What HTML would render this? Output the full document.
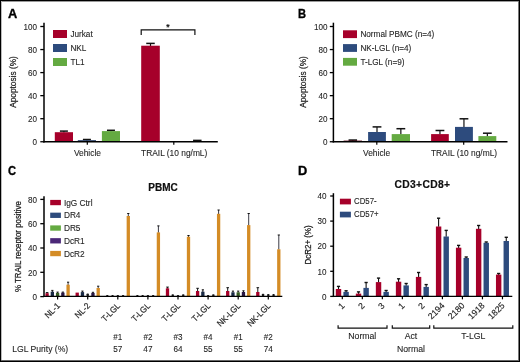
<!DOCTYPE html>
<html><head><meta charset="utf-8"><style>
html,body{margin:0;padding:0;background:#fff;}
body{width:520px;height:362px;overflow:hidden;position:relative;}
svg{position:absolute;left:0;top:0;will-change:transform;font-family:"Liberation Sans", sans-serif;}
</style></head><body>
<svg width="520" height="362" viewBox="0 0 520 362">
<text x="8.1" y="17.8" font-size="12.8" text-anchor="start" font-weight="bold" fill="#000" stroke="#000" stroke-width="0.35">A</text>
<text x="0" y="0" font-size="9.2" text-anchor="end" font-weight="normal" fill="#1e1e1e" transform="translate(36.90,144.95) scale(0.880,1)"  stroke="#1e1e1e" stroke-width="0.1">0</text>
<text x="0" y="0" font-size="9.2" text-anchor="end" font-weight="normal" fill="#1e1e1e" transform="translate(36.90,121.90) scale(0.880,1)"  stroke="#1e1e1e" stroke-width="0.1">20</text>
<text x="0" y="0" font-size="9.2" text-anchor="end" font-weight="normal" fill="#1e1e1e" transform="translate(36.90,98.85) scale(0.880,1)"  stroke="#1e1e1e" stroke-width="0.1">40</text>
<text x="0" y="0" font-size="9.2" text-anchor="end" font-weight="normal" fill="#1e1e1e" transform="translate(36.90,75.80) scale(0.880,1)"  stroke="#1e1e1e" stroke-width="0.1">60</text>
<text x="0" y="0" font-size="9.2" text-anchor="end" font-weight="normal" fill="#1e1e1e" transform="translate(36.90,52.75) scale(0.880,1)"  stroke="#1e1e1e" stroke-width="0.1">80</text>
<text x="0" y="0" font-size="9.2" text-anchor="end" font-weight="normal" fill="#1e1e1e" transform="translate(36.90,29.70) scale(0.880,1)"  stroke="#1e1e1e" stroke-width="0.1">100</text>
<text x="0" y="0" font-size="8.3" text-anchor="middle" font-weight="normal" fill="#1a1a1a" transform="translate(16.2,82) rotate(-90)" stroke="#1a1a1a" stroke-width="0.22">Apoptosis (%)</text>
<line x1="63.90" y1="131.10" x2="63.90" y2="132.50" stroke="#111" stroke-width="1.2"/>
<line x1="59.90" y1="131.10" x2="67.90" y2="131.10" stroke="#111" stroke-width="1.5"/>
<rect x="54.80" y="132.20" width="18.20" height="9.55" fill="#a6002a"/>
<line x1="86.90" y1="139.50" x2="86.90" y2="140.50" stroke="#111" stroke-width="1.2"/>
<line x1="82.90" y1="139.50" x2="90.90" y2="139.50" stroke="#111" stroke-width="1.5"/>
<rect x="77.80" y="140.20" width="18.20" height="1.55" fill="#1d3560"/>
<line x1="110.95" y1="130.30" x2="110.95" y2="131.40" stroke="#111" stroke-width="1.2"/>
<line x1="106.95" y1="130.30" x2="114.95" y2="130.30" stroke="#111" stroke-width="1.5"/>
<rect x="101.90" y="131.10" width="18.10" height="10.65" fill="#64aa41"/>
<line x1="150.50" y1="43.40" x2="150.50" y2="46.00" stroke="#111" stroke-width="1.2"/>
<line x1="146.25" y1="43.40" x2="154.75" y2="43.40" stroke="#111" stroke-width="1.5"/>
<rect x="141.20" y="45.70" width="18.60" height="96.05" fill="#a6002a"/>
<line x1="197.30" y1="140.40" x2="197.30" y2="141.70" stroke="#111" stroke-width="1.2"/>
<line x1="193.05" y1="140.40" x2="201.55" y2="140.40" stroke="#111" stroke-width="1.5"/>
<rect x="188.30" y="141.40" width="18.00" height="0.35" fill="#64aa41"/>
<text x="87.4" y="155.6" font-size="8.4" text-anchor="middle" font-weight="normal" fill="#1e1e1e"  stroke="#1e1e1e" stroke-width="0.1">Vehicle</text>
<text x="174.2" y="155.6" font-size="8.4" text-anchor="middle" font-weight="normal" fill="#1e1e1e"  stroke="#1e1e1e" stroke-width="0.1">TRAIL (10 ng/mL)</text>
<rect x="53.00" y="30.00" width="14.00" height="8.00" fill="#a6002a"/>
<text x="70.4" y="37" font-size="8.2" text-anchor="start" font-weight="normal" fill="#1e1e1e"  stroke="#1e1e1e" stroke-width="0.1">Jurkat</text>
<rect x="53.00" y="44.00" width="14.00" height="8.00" fill="#2d4b7d"/>
<text x="70.4" y="51" font-size="8.2" text-anchor="start" font-weight="normal" fill="#1e1e1e"  stroke="#1e1e1e" stroke-width="0.1">NKL</text>
<rect x="53.00" y="58.00" width="14.00" height="8.00" fill="#64aa41"/>
<text x="70.4" y="65" font-size="8.2" text-anchor="start" font-weight="normal" fill="#1e1e1e"  stroke="#1e1e1e" stroke-width="0.1">TL1</text>
<polyline points="141.2,35 141.2,29.8 194.9,29.8 194.9,35" fill="none" stroke="#111" stroke-width="1.2"/>
<text x="167.9" y="30.3" font-size="8.5" text-anchor="middle" font-weight="bold" fill="#111"  stroke="#111" stroke-width="0.1">*</text>
<text x="0" y="0" font-size="12.8" text-anchor="start" font-weight="bold" fill="#000" transform="translate(298.00,17.80) scale(0.870,1)" stroke="#000" stroke-width="0.35">B</text>
<text x="0" y="0" font-size="9.2" text-anchor="end" font-weight="normal" fill="#1e1e1e" transform="translate(327.40,144.95) scale(0.880,1)"  stroke="#1e1e1e" stroke-width="0.1">0</text>
<text x="0" y="0" font-size="9.2" text-anchor="end" font-weight="normal" fill="#1e1e1e" transform="translate(327.40,121.90) scale(0.880,1)"  stroke="#1e1e1e" stroke-width="0.1">20</text>
<text x="0" y="0" font-size="9.2" text-anchor="end" font-weight="normal" fill="#1e1e1e" transform="translate(327.40,98.85) scale(0.880,1)"  stroke="#1e1e1e" stroke-width="0.1">40</text>
<text x="0" y="0" font-size="9.2" text-anchor="end" font-weight="normal" fill="#1e1e1e" transform="translate(327.40,75.80) scale(0.880,1)"  stroke="#1e1e1e" stroke-width="0.1">60</text>
<text x="0" y="0" font-size="9.2" text-anchor="end" font-weight="normal" fill="#1e1e1e" transform="translate(327.40,52.75) scale(0.880,1)"  stroke="#1e1e1e" stroke-width="0.1">80</text>
<text x="0" y="0" font-size="9.2" text-anchor="end" font-weight="normal" fill="#1e1e1e" transform="translate(327.40,29.70) scale(0.880,1)"  stroke="#1e1e1e" stroke-width="0.1">100</text>
<text x="0" y="0" font-size="8.3" text-anchor="middle" font-weight="normal" fill="#1a1a1a" transform="translate(305.5,82) rotate(-90)" stroke="#1a1a1a" stroke-width="0.22">Apoptosis (%)</text>
<line x1="352.80" y1="140.10" x2="352.80" y2="140.90" stroke="#111" stroke-width="1.2"/>
<line x1="348.55" y1="140.10" x2="357.05" y2="140.10" stroke="#111" stroke-width="1.6"/>
<rect x="343.60" y="140.60" width="18.40" height="1.15" fill="#5a0016"/>
<line x1="377.00" y1="126.90" x2="377.00" y2="132.30" stroke="#111" stroke-width="1.2"/>
<line x1="372.60" y1="126.90" x2="381.40" y2="126.90" stroke="#111" stroke-width="1.5"/>
<rect x="368.10" y="132.00" width="17.80" height="9.75" fill="#2d4b7d"/>
<line x1="400.85" y1="128.70" x2="400.85" y2="134.40" stroke="#111" stroke-width="1.2"/>
<line x1="396.45" y1="128.70" x2="405.25" y2="128.70" stroke="#111" stroke-width="1.5"/>
<rect x="391.70" y="134.10" width="18.30" height="7.65" fill="#64aa41"/>
<line x1="439.95" y1="130.50" x2="439.95" y2="134.40" stroke="#111" stroke-width="1.2"/>
<line x1="435.55" y1="130.50" x2="444.35" y2="130.50" stroke="#111" stroke-width="1.5"/>
<rect x="431.10" y="134.10" width="17.70" height="7.65" fill="#a6002a"/>
<line x1="463.95" y1="118.80" x2="463.95" y2="127.20" stroke="#111" stroke-width="1.2"/>
<line x1="459.55" y1="118.80" x2="468.35" y2="118.80" stroke="#111" stroke-width="1.5"/>
<rect x="455.00" y="126.90" width="17.90" height="14.85" fill="#2d4b7d"/>
<line x1="487.35" y1="133.20" x2="487.35" y2="136.40" stroke="#111" stroke-width="1.2"/>
<line x1="482.95" y1="133.20" x2="491.75" y2="133.20" stroke="#111" stroke-width="1.5"/>
<rect x="478.40" y="136.10" width="17.90" height="5.65" fill="#64aa41"/>
<text x="376.6" y="155.6" font-size="8.4" text-anchor="middle" font-weight="normal" fill="#1e1e1e"  stroke="#1e1e1e" stroke-width="0.1">Vehicle</text>
<text x="464.0" y="155.6" font-size="8.4" text-anchor="middle" font-weight="normal" fill="#1e1e1e"  stroke="#1e1e1e" stroke-width="0.1">TRAIL (10 ng/mL)</text>
<rect x="343.00" y="30.30" width="14.00" height="7.80" fill="#a6002a"/>
<text x="360.4" y="37.3" font-size="8.2" text-anchor="start" font-weight="normal" fill="#1e1e1e"  stroke="#1e1e1e" stroke-width="0.1">Normal PBMC (n=4)</text>
<rect x="343.00" y="44.10" width="14.00" height="7.80" fill="#2d4b7d"/>
<text x="360.4" y="51.1" font-size="8.2" text-anchor="start" font-weight="normal" fill="#1e1e1e"  stroke="#1e1e1e" stroke-width="0.1">NK-LGL (n=4)</text>
<rect x="343.00" y="57.90" width="14.00" height="7.80" fill="#64aa41"/>
<text x="360.4" y="64.9" font-size="8.2" text-anchor="start" font-weight="normal" fill="#1e1e1e"  stroke="#1e1e1e" stroke-width="0.1">T-LGL (n=9)</text>
<text x="0" y="0" font-size="12.8" text-anchor="start" font-weight="bold" fill="#000" transform="translate(8.10,175.30) scale(0.870,1)" stroke="#000" stroke-width="0.35">C</text>
<text x="0" y="0" font-size="9.2" text-anchor="end" font-weight="normal" fill="#1e1e1e" transform="translate(37.10,299.80) scale(0.880,1)"  stroke="#1e1e1e" stroke-width="0.1">0</text>
<text x="0" y="0" font-size="9.2" text-anchor="end" font-weight="normal" fill="#1e1e1e" transform="translate(37.10,275.50) scale(0.880,1)"  stroke="#1e1e1e" stroke-width="0.1">20</text>
<text x="0" y="0" font-size="9.2" text-anchor="end" font-weight="normal" fill="#1e1e1e" transform="translate(37.10,251.20) scale(0.880,1)"  stroke="#1e1e1e" stroke-width="0.1">40</text>
<text x="0" y="0" font-size="9.2" text-anchor="end" font-weight="normal" fill="#1e1e1e" transform="translate(37.10,226.90) scale(0.880,1)"  stroke="#1e1e1e" stroke-width="0.1">60</text>
<text x="0" y="0" font-size="9.2" text-anchor="end" font-weight="normal" fill="#1e1e1e" transform="translate(37.10,202.60) scale(0.880,1)"  stroke="#1e1e1e" stroke-width="0.1">80</text>
<text x="0" y="0" font-size="8.5" text-anchor="middle" font-weight="normal" fill="#1a1a1a" transform="translate(21.20,246.60) rotate(-90) scale(0.925,1)" stroke="#1a1a1a" stroke-width="0.25">% TRAIL receptor positive</text>
<text x="163" y="190.6" font-size="10" text-anchor="middle" font-weight="bold" fill="#111" stroke="#111" stroke-width="0.2">PBMC</text>
<line x1="47.10" y1="292.60" x2="47.10" y2="293.50" stroke="#111" stroke-width="1.0"/>
<line x1="45.80" y1="292.60" x2="48.40" y2="292.60" stroke="#111" stroke-width="1.0"/>
<rect x="45.45" y="293.20" width="3.30" height="3.20" fill="#a6002a"/>
<line x1="52.35" y1="290.40" x2="52.35" y2="292.00" stroke="#111" stroke-width="1.0"/>
<line x1="51.25" y1="290.40" x2="53.45" y2="290.40" stroke="#111" stroke-width="1.0"/>
<rect x="50.70" y="291.70" width="3.30" height="4.70" fill="#182944"/>
<line x1="57.60" y1="292.10" x2="57.60" y2="293.20" stroke="#111" stroke-width="1.0"/>
<line x1="56.50" y1="292.10" x2="58.70" y2="292.10" stroke="#111" stroke-width="1.0"/>
<rect x="55.95" y="292.90" width="3.30" height="3.50" fill="#375d23"/>
<line x1="62.85" y1="292.10" x2="62.85" y2="292.90" stroke="#111" stroke-width="1.0"/>
<line x1="61.75" y1="292.10" x2="63.95" y2="292.10" stroke="#111" stroke-width="1.0"/>
<rect x="61.20" y="292.60" width="3.30" height="3.80" fill="#291642"/>
<line x1="68.10" y1="282.20" x2="68.10" y2="285.00" stroke="#3a3a44" stroke-width="1.0"/>
<line x1="67.00" y1="282.20" x2="69.20" y2="282.20" stroke="#111" stroke-width="1.0"/>
<rect x="66.45" y="284.70" width="3.30" height="11.70" fill="#d48c26"/>
<text x="0" y="0" font-size="8.7" text-anchor="end" font-weight="normal" fill="#1e1e1e" transform="translate(60.60,306.40) rotate(-45) scale(0.930,1)" stroke="#222" stroke-width="0.2">NL-1</text>
<rect x="75.55" y="292.60" width="3.30" height="3.80" fill="#a6002a"/>
<line x1="82.45" y1="291.10" x2="82.45" y2="292.40" stroke="#111" stroke-width="1.0"/>
<line x1="81.35" y1="291.10" x2="83.55" y2="291.10" stroke="#111" stroke-width="1.0"/>
<rect x="80.80" y="292.10" width="3.30" height="4.30" fill="#182944"/>
<rect x="86.50" y="293.50" width="2.4" height="2.90" rx="0.8" fill="#1a1a1a"/>
<line x1="92.95" y1="292.30" x2="92.95" y2="293.20" stroke="#111" stroke-width="1.0"/>
<line x1="91.85" y1="292.30" x2="94.05" y2="292.30" stroke="#111" stroke-width="1.0"/>
<rect x="91.30" y="292.90" width="3.30" height="3.50" fill="#291642"/>
<line x1="98.20" y1="286.20" x2="98.20" y2="288.30" stroke="#3a3a44" stroke-width="1.0"/>
<line x1="97.10" y1="286.20" x2="99.30" y2="286.20" stroke="#111" stroke-width="1.0"/>
<rect x="96.55" y="288.00" width="3.30" height="8.40" fill="#d48c26"/>
<text x="0" y="0" font-size="8.7" text-anchor="end" font-weight="normal" fill="#1e1e1e" transform="translate(90.70,306.40) rotate(-45) scale(0.930,1)" stroke="#222" stroke-width="0.2">NL-2</text>
<rect x="106.10" y="295.00" width="2.4" height="1.40" rx="0.8" fill="#1a1a1a"/>
<rect x="111.35" y="295.00" width="2.4" height="1.40" rx="0.8" fill="#1a1a1a"/>
<rect x="116.60" y="295.00" width="2.4" height="1.40" rx="0.8" fill="#1a1a1a"/>
<rect x="121.85" y="295.00" width="2.4" height="1.40" rx="0.8" fill="#1a1a1a"/>
<line x1="128.30" y1="213.50" x2="128.30" y2="216.30" stroke="#3a3a44" stroke-width="1.0"/>
<line x1="127.20" y1="213.50" x2="129.40" y2="213.50" stroke="#111" stroke-width="1.0"/>
<rect x="126.65" y="216.00" width="3.30" height="80.40" fill="#d48c26"/>
<text x="0" y="0" font-size="8.7" text-anchor="end" font-weight="normal" fill="#1e1e1e" transform="translate(120.80,306.40) rotate(-45) scale(0.930,1)" stroke="#222" stroke-width="0.2">T-LGL</text>
<rect x="136.20" y="295.00" width="2.4" height="1.40" rx="0.8" fill="#1a1a1a"/>
<rect x="141.45" y="295.00" width="2.4" height="1.40" rx="0.8" fill="#1a1a1a"/>
<rect x="146.70" y="295.00" width="2.4" height="1.40" rx="0.8" fill="#1a1a1a"/>
<rect x="151.95" y="295.00" width="2.4" height="1.40" rx="0.8" fill="#1a1a1a"/>
<line x1="158.40" y1="225.90" x2="158.40" y2="232.70" stroke="#3a3a44" stroke-width="1.0"/>
<line x1="157.30" y1="225.90" x2="159.50" y2="225.90" stroke="#111" stroke-width="1.0"/>
<rect x="156.75" y="232.40" width="3.30" height="64.00" fill="#d48c26"/>
<text x="0" y="0" font-size="8.7" text-anchor="end" font-weight="normal" fill="#1e1e1e" transform="translate(150.90,306.40) rotate(-45) scale(0.930,1)" stroke="#222" stroke-width="0.2">T-LGL</text>
<line x1="167.50" y1="287.10" x2="167.50" y2="288.60" stroke="#111" stroke-width="1.0"/>
<line x1="166.20" y1="287.10" x2="168.80" y2="287.10" stroke="#111" stroke-width="1.0"/>
<rect x="165.85" y="288.30" width="3.30" height="8.10" fill="#a6002a"/>
<rect x="171.55" y="294.20" width="2.4" height="2.20" rx="0.8" fill="#1a1a1a"/>
<rect x="176.80" y="295.00" width="2.4" height="1.40" rx="0.8" fill="#1a1a1a"/>
<rect x="182.05" y="294.20" width="2.4" height="2.20" rx="0.8" fill="#1a1a1a"/>
<line x1="188.50" y1="235.50" x2="188.50" y2="237.00" stroke="#3a3a44" stroke-width="1.0"/>
<line x1="187.40" y1="235.50" x2="189.60" y2="235.50" stroke="#111" stroke-width="1.0"/>
<rect x="186.85" y="236.70" width="3.30" height="59.70" fill="#d48c26"/>
<text x="0" y="0" font-size="8.7" text-anchor="end" font-weight="normal" fill="#1e1e1e" transform="translate(181.00,306.40) rotate(-45) scale(0.930,1)" stroke="#222" stroke-width="0.2">T-LGL</text>
<line x1="197.60" y1="288.30" x2="197.60" y2="291.30" stroke="#111" stroke-width="1.0"/>
<line x1="196.30" y1="288.30" x2="198.90" y2="288.30" stroke="#111" stroke-width="1.0"/>
<rect x="195.95" y="291.00" width="3.30" height="5.40" fill="#a6002a"/>
<line x1="202.85" y1="289.80" x2="202.85" y2="292.00" stroke="#111" stroke-width="1.0"/>
<line x1="201.75" y1="289.80" x2="203.95" y2="289.80" stroke="#111" stroke-width="1.0"/>
<rect x="201.20" y="291.70" width="3.30" height="4.70" fill="#182944"/>
<rect x="206.90" y="295.00" width="2.4" height="1.40" rx="0.8" fill="#1a1a1a"/>
<rect x="212.15" y="294.20" width="2.4" height="2.20" rx="0.8" fill="#1a1a1a"/>
<line x1="218.60" y1="210.00" x2="218.60" y2="214.10" stroke="#3a3a44" stroke-width="1.0"/>
<line x1="217.50" y1="210.00" x2="219.70" y2="210.00" stroke="#111" stroke-width="1.0"/>
<rect x="216.95" y="213.80" width="3.30" height="82.60" fill="#d48c26"/>
<text x="0" y="0" font-size="8.7" text-anchor="end" font-weight="normal" fill="#1e1e1e" transform="translate(211.10,306.40) rotate(-45) scale(0.930,1)" stroke="#222" stroke-width="0.2">T-LGL</text>
<line x1="227.70" y1="287.70" x2="227.70" y2="291.30" stroke="#111" stroke-width="1.0"/>
<line x1="226.40" y1="287.70" x2="229.00" y2="287.70" stroke="#111" stroke-width="1.0"/>
<rect x="226.05" y="291.00" width="3.30" height="5.40" fill="#a6002a"/>
<line x1="232.95" y1="291.10" x2="232.95" y2="292.60" stroke="#111" stroke-width="1.0"/>
<line x1="231.85" y1="291.10" x2="234.05" y2="291.10" stroke="#111" stroke-width="1.0"/>
<rect x="231.30" y="292.30" width="3.30" height="4.10" fill="#182944"/>
<line x1="238.20" y1="291.10" x2="238.20" y2="292.60" stroke="#111" stroke-width="1.0"/>
<line x1="237.10" y1="291.10" x2="239.30" y2="291.10" stroke="#111" stroke-width="1.0"/>
<rect x="236.55" y="292.30" width="3.30" height="4.10" fill="#375d23"/>
<line x1="243.45" y1="290.80" x2="243.45" y2="292.30" stroke="#111" stroke-width="1.0"/>
<line x1="242.35" y1="290.80" x2="244.55" y2="290.80" stroke="#111" stroke-width="1.0"/>
<rect x="241.80" y="292.00" width="3.30" height="4.40" fill="#291642"/>
<line x1="248.70" y1="213.50" x2="248.70" y2="225.40" stroke="#3a3a44" stroke-width="1.0"/>
<line x1="247.60" y1="213.50" x2="249.80" y2="213.50" stroke="#111" stroke-width="1.0"/>
<rect x="247.05" y="225.10" width="3.30" height="71.30" fill="#d48c26"/>
<text x="0" y="0" font-size="8.7" text-anchor="end" font-weight="normal" fill="#1e1e1e" transform="translate(241.20,306.40) rotate(-45) scale(0.930,1)" stroke="#222" stroke-width="0.2">NK-LGL</text>
<line x1="257.80" y1="287.70" x2="257.80" y2="292.30" stroke="#111" stroke-width="1.0"/>
<line x1="256.50" y1="287.70" x2="259.10" y2="287.70" stroke="#111" stroke-width="1.0"/>
<rect x="256.15" y="292.00" width="3.30" height="4.40" fill="#a6002a"/>
<rect x="261.85" y="293.70" width="2.4" height="2.70" rx="0.8" fill="#1a1a1a"/>
<rect x="267.10" y="293.90" width="2.4" height="2.50" rx="0.8" fill="#1a1a1a"/>
<rect x="272.35" y="294.10" width="2.4" height="2.30" rx="0.8" fill="#1a1a1a"/>
<line x1="278.80" y1="235.00" x2="278.80" y2="249.60" stroke="#3a3a44" stroke-width="1.0"/>
<line x1="277.70" y1="235.00" x2="279.90" y2="235.00" stroke="#111" stroke-width="1.0"/>
<rect x="277.15" y="249.30" width="3.30" height="47.10" fill="#d48c26"/>
<text x="0" y="0" font-size="8.7" text-anchor="end" font-weight="normal" fill="#1e1e1e" transform="translate(271.30,306.40) rotate(-45) scale(0.930,1)" stroke="#222" stroke-width="0.2">NK-LGL</text>
<rect x="50.20" y="199.90" width="10.70" height="5.30" fill="#a6002a"/>
<text x="63.9" y="205.5" font-size="8.3" text-anchor="start" font-weight="normal" fill="#1e1e1e"  stroke="#1e1e1e" stroke-width="0.1">IgG Ctrl</text>
<rect x="50.20" y="212.65" width="10.70" height="5.30" fill="#2d4b7d"/>
<text x="63.9" y="218.25" font-size="8.3" text-anchor="start" font-weight="normal" fill="#1e1e1e"  stroke="#1e1e1e" stroke-width="0.1">DR4</text>
<rect x="50.20" y="225.40" width="10.70" height="5.30" fill="#64aa41"/>
<text x="63.9" y="231.0" font-size="8.3" text-anchor="start" font-weight="normal" fill="#1e1e1e"  stroke="#1e1e1e" stroke-width="0.1">DR5</text>
<rect x="50.20" y="238.15" width="10.70" height="5.30" fill="#4b2878"/>
<text x="63.9" y="243.75" font-size="8.3" text-anchor="start" font-weight="normal" fill="#1e1e1e"  stroke="#1e1e1e" stroke-width="0.1">DcR1</text>
<rect x="50.20" y="250.90" width="10.70" height="5.30" fill="#d48c26"/>
<text x="63.9" y="256.5" font-size="8.3" text-anchor="start" font-weight="normal" fill="#1e1e1e"  stroke="#1e1e1e" stroke-width="0.1">DcR2</text>
<text x="0" y="0" font-size="9.0" text-anchor="middle" font-weight="normal" fill="#1e1e1e" transform="translate(117.80,339.70) scale(0.900,1)"  stroke="#1e1e1e" stroke-width="0.1">#1</text>
<text x="0" y="0" font-size="9.4" text-anchor="middle" font-weight="normal" fill="#1e1e1e" transform="translate(117.80,352.30) scale(0.870,1)"  stroke="#1e1e1e" stroke-width="0.1">57</text>
<text x="0" y="0" font-size="9.0" text-anchor="middle" font-weight="normal" fill="#1e1e1e" transform="translate(147.90,339.70) scale(0.900,1)"  stroke="#1e1e1e" stroke-width="0.1">#2</text>
<text x="0" y="0" font-size="9.4" text-anchor="middle" font-weight="normal" fill="#1e1e1e" transform="translate(147.90,352.30) scale(0.870,1)"  stroke="#1e1e1e" stroke-width="0.1">47</text>
<text x="0" y="0" font-size="9.0" text-anchor="middle" font-weight="normal" fill="#1e1e1e" transform="translate(178.00,339.70) scale(0.900,1)"  stroke="#1e1e1e" stroke-width="0.1">#3</text>
<text x="0" y="0" font-size="9.4" text-anchor="middle" font-weight="normal" fill="#1e1e1e" transform="translate(178.00,352.30) scale(0.870,1)"  stroke="#1e1e1e" stroke-width="0.1">64</text>
<text x="0" y="0" font-size="9.0" text-anchor="middle" font-weight="normal" fill="#1e1e1e" transform="translate(208.10,339.70) scale(0.900,1)"  stroke="#1e1e1e" stroke-width="0.1">#4</text>
<text x="0" y="0" font-size="9.4" text-anchor="middle" font-weight="normal" fill="#1e1e1e" transform="translate(208.10,352.30) scale(0.870,1)"  stroke="#1e1e1e" stroke-width="0.1">55</text>
<text x="0" y="0" font-size="9.0" text-anchor="middle" font-weight="normal" fill="#1e1e1e" transform="translate(238.20,339.70) scale(0.900,1)"  stroke="#1e1e1e" stroke-width="0.1">#1</text>
<text x="0" y="0" font-size="9.4" text-anchor="middle" font-weight="normal" fill="#1e1e1e" transform="translate(238.20,352.30) scale(0.870,1)"  stroke="#1e1e1e" stroke-width="0.1">55</text>
<text x="0" y="0" font-size="9.0" text-anchor="middle" font-weight="normal" fill="#1e1e1e" transform="translate(268.30,339.70) scale(0.900,1)"  stroke="#1e1e1e" stroke-width="0.1">#2</text>
<text x="0" y="0" font-size="9.4" text-anchor="middle" font-weight="normal" fill="#1e1e1e" transform="translate(268.30,352.30) scale(0.870,1)"  stroke="#1e1e1e" stroke-width="0.1">74</text>
<text x="12.2" y="352.4" font-size="8.6" text-anchor="start" font-weight="normal" fill="#1e1e1e"  stroke="#1e1e1e" stroke-width="0.1">LGL Purity (%)</text>
<text x="297.9" y="175.3" font-size="12.8" text-anchor="start" font-weight="bold" fill="#000" stroke="#000" stroke-width="0.35">D</text>
<text x="0" y="0" font-size="9.2" text-anchor="end" font-weight="normal" fill="#1e1e1e" transform="translate(326.60,299.60) scale(0.880,1)"  stroke="#1e1e1e" stroke-width="0.1">0</text>
<text x="0" y="0" font-size="9.2" text-anchor="end" font-weight="normal" fill="#1e1e1e" transform="translate(326.60,274.50) scale(0.880,1)"  stroke="#1e1e1e" stroke-width="0.1">10</text>
<text x="0" y="0" font-size="9.2" text-anchor="end" font-weight="normal" fill="#1e1e1e" transform="translate(326.60,249.40) scale(0.880,1)"  stroke="#1e1e1e" stroke-width="0.1">20</text>
<text x="0" y="0" font-size="9.2" text-anchor="end" font-weight="normal" fill="#1e1e1e" transform="translate(326.60,224.30) scale(0.880,1)"  stroke="#1e1e1e" stroke-width="0.1">30</text>
<text x="0" y="0" font-size="9.2" text-anchor="end" font-weight="normal" fill="#1e1e1e" transform="translate(326.60,199.20) scale(0.880,1)"  stroke="#1e1e1e" stroke-width="0.1">40</text>
<text x="0" y="0" font-size="9.0" text-anchor="middle" font-weight="normal" fill="#1a1a1a" transform="translate(311.30,244.90) rotate(-90) scale(0.890,1)" stroke="#1a1a1a" stroke-width="0.25">DcR2+ (%)</text>
<text x="422.4" y="187.5" font-size="10.3" text-anchor="middle" font-weight="bold" fill="#111" letter-spacing="0.35" stroke="#111" stroke-width="0.2">CD3+CD8+</text>
<line x1="338.50" y1="286.40" x2="338.50" y2="289.30" stroke="#111" stroke-width="1.1"/>
<line x1="336.90" y1="286.40" x2="340.10" y2="286.40" stroke="#111" stroke-width="1.4"/>
<rect x="335.80" y="289.00" width="5.40" height="7.35" fill="#a6002a"/>
<line x1="346.10" y1="290.80" x2="346.10" y2="292.20" stroke="#111" stroke-width="1.1"/>
<line x1="344.50" y1="290.80" x2="347.70" y2="290.80" stroke="#111" stroke-width="1.4"/>
<rect x="343.40" y="291.90" width="5.40" height="4.45" fill="#2d4b7d"/>
<text x="0" y="0" font-size="8.7" text-anchor="end" font-weight="normal" fill="#1e1e1e" transform="translate(345.10,306.20) rotate(-45)" stroke="#222" stroke-width="0.15">1</text>
<line x1="358.52" y1="291.90" x2="358.52" y2="293.90" stroke="#111" stroke-width="1.1"/>
<line x1="356.92" y1="291.90" x2="360.12" y2="291.90" stroke="#111" stroke-width="1.4"/>
<rect x="355.82" y="293.60" width="5.40" height="2.75" fill="#a6002a"/>
<line x1="366.12" y1="282.50" x2="366.12" y2="288.20" stroke="#111" stroke-width="1.1"/>
<line x1="364.52" y1="282.50" x2="367.72" y2="282.50" stroke="#111" stroke-width="1.4"/>
<rect x="363.42" y="287.90" width="5.40" height="8.45" fill="#2d4b7d"/>
<text x="0" y="0" font-size="8.7" text-anchor="end" font-weight="normal" fill="#1e1e1e" transform="translate(365.12,306.20) rotate(-45)" stroke="#222" stroke-width="0.15">2</text>
<line x1="378.54" y1="278.10" x2="378.54" y2="282.40" stroke="#111" stroke-width="1.1"/>
<line x1="376.94" y1="278.10" x2="380.14" y2="278.10" stroke="#111" stroke-width="1.4"/>
<rect x="375.84" y="282.10" width="5.40" height="14.25" fill="#a6002a"/>
<line x1="386.14" y1="290.50" x2="386.14" y2="292.20" stroke="#111" stroke-width="1.1"/>
<line x1="384.54" y1="290.50" x2="387.74" y2="290.50" stroke="#111" stroke-width="1.4"/>
<rect x="383.44" y="291.90" width="5.40" height="4.45" fill="#2d4b7d"/>
<text x="0" y="0" font-size="8.7" text-anchor="end" font-weight="normal" fill="#1e1e1e" transform="translate(385.14,306.20) rotate(-45)" stroke="#222" stroke-width="0.15">3</text>
<line x1="398.56" y1="278.80" x2="398.56" y2="282.00" stroke="#111" stroke-width="1.1"/>
<line x1="396.96" y1="278.80" x2="400.16" y2="278.80" stroke="#111" stroke-width="1.4"/>
<rect x="395.86" y="281.70" width="5.40" height="14.65" fill="#a6002a"/>
<line x1="406.16" y1="283.50" x2="406.16" y2="285.70" stroke="#111" stroke-width="1.1"/>
<line x1="404.56" y1="283.50" x2="407.76" y2="283.50" stroke="#111" stroke-width="1.4"/>
<rect x="403.46" y="285.40" width="5.40" height="10.95" fill="#2d4b7d"/>
<text x="0" y="0" font-size="8.7" text-anchor="end" font-weight="normal" fill="#1e1e1e" transform="translate(405.16,306.20) rotate(-45)" stroke="#222" stroke-width="0.15">1</text>
<line x1="418.58" y1="272.50" x2="418.58" y2="277.20" stroke="#111" stroke-width="1.1"/>
<line x1="416.98" y1="272.50" x2="420.18" y2="272.50" stroke="#111" stroke-width="1.4"/>
<rect x="415.88" y="276.90" width="5.40" height="19.45" fill="#a6002a"/>
<line x1="426.18" y1="284.60" x2="426.18" y2="287.20" stroke="#111" stroke-width="1.1"/>
<line x1="424.58" y1="284.60" x2="427.78" y2="284.60" stroke="#111" stroke-width="1.4"/>
<rect x="423.48" y="286.90" width="5.40" height="9.45" fill="#2d4b7d"/>
<text x="0" y="0" font-size="8.7" text-anchor="end" font-weight="normal" fill="#1e1e1e" transform="translate(425.18,306.20) rotate(-45)" stroke="#222" stroke-width="0.15">2</text>
<line x1="438.60" y1="218.20" x2="438.60" y2="226.80" stroke="#111" stroke-width="1.1"/>
<line x1="437.00" y1="218.20" x2="440.20" y2="218.20" stroke="#111" stroke-width="1.4"/>
<rect x="435.90" y="226.50" width="5.40" height="69.85" fill="#a6002a"/>
<line x1="446.20" y1="230.40" x2="446.20" y2="236.80" stroke="#111" stroke-width="1.1"/>
<line x1="444.60" y1="230.40" x2="447.80" y2="230.40" stroke="#111" stroke-width="1.4"/>
<rect x="443.50" y="236.50" width="5.40" height="59.85" fill="#2d4b7d"/>
<text x="0" y="0" font-size="8.7" text-anchor="end" font-weight="normal" fill="#1e1e1e" transform="translate(445.20,306.20) rotate(-45)" stroke="#222" stroke-width="0.15">2194</text>
<line x1="458.62" y1="245.40" x2="458.62" y2="248.00" stroke="#111" stroke-width="1.1"/>
<line x1="457.02" y1="245.40" x2="460.22" y2="245.40" stroke="#111" stroke-width="1.4"/>
<rect x="455.92" y="247.70" width="5.40" height="48.65" fill="#a6002a"/>
<line x1="466.22" y1="257.00" x2="466.22" y2="258.30" stroke="#111" stroke-width="1.1"/>
<line x1="464.62" y1="257.00" x2="467.82" y2="257.00" stroke="#111" stroke-width="1.4"/>
<rect x="463.52" y="258.00" width="5.40" height="38.35" fill="#2d4b7d"/>
<text x="0" y="0" font-size="8.7" text-anchor="end" font-weight="normal" fill="#1e1e1e" transform="translate(465.22,306.20) rotate(-45)" stroke="#222" stroke-width="0.15">2180</text>
<line x1="478.64" y1="225.50" x2="478.64" y2="229.10" stroke="#111" stroke-width="1.1"/>
<line x1="477.04" y1="225.50" x2="480.24" y2="225.50" stroke="#111" stroke-width="1.4"/>
<rect x="475.94" y="228.80" width="5.40" height="67.55" fill="#a6002a"/>
<line x1="486.24" y1="242.00" x2="486.24" y2="243.10" stroke="#111" stroke-width="1.1"/>
<line x1="484.64" y1="242.00" x2="487.84" y2="242.00" stroke="#111" stroke-width="1.4"/>
<rect x="483.54" y="242.80" width="5.40" height="53.55" fill="#2d4b7d"/>
<text x="0" y="0" font-size="8.7" text-anchor="end" font-weight="normal" fill="#1e1e1e" transform="translate(485.24,306.20) rotate(-45)" stroke="#222" stroke-width="0.15">1918</text>
<line x1="498.66" y1="273.50" x2="498.66" y2="274.90" stroke="#111" stroke-width="1.1"/>
<line x1="497.06" y1="273.50" x2="500.26" y2="273.50" stroke="#111" stroke-width="1.4"/>
<rect x="495.96" y="274.60" width="5.40" height="21.75" fill="#a6002a"/>
<line x1="506.26" y1="237.30" x2="506.26" y2="241.30" stroke="#111" stroke-width="1.1"/>
<line x1="504.66" y1="237.30" x2="507.86" y2="237.30" stroke="#111" stroke-width="1.4"/>
<rect x="503.56" y="241.00" width="5.40" height="55.35" fill="#2d4b7d"/>
<text x="0" y="0" font-size="8.7" text-anchor="end" font-weight="normal" fill="#1e1e1e" transform="translate(505.26,306.20) rotate(-45)" stroke="#222" stroke-width="0.15">1825</text>
<rect x="339.90" y="198.70" width="11.00" height="5.70" fill="#a6002a"/>
<text x="0" y="0" font-size="8.7" text-anchor="start" font-weight="normal" fill="#1e1e1e" transform="translate(354.00,204.30) scale(0.900,1)"  stroke="#1e1e1e" stroke-width="0.1">CD57-</text>
<rect x="339.90" y="211.70" width="11.00" height="5.70" fill="#2d4b7d"/>
<text x="0" y="0" font-size="8.7" text-anchor="start" font-weight="normal" fill="#1e1e1e" transform="translate(354.00,217.30) scale(0.900,1)"  stroke="#1e1e1e" stroke-width="0.1">CD57+</text>
<polyline points="338.1,325.3 338.1,328.2 387,328.2 387,325.3" fill="none" stroke="#111" stroke-width="1.2"/>
<polyline points="392.3,325.3 392.3,328.2 429.7,328.2 429.7,325.3" fill="none" stroke="#111" stroke-width="1.2"/>
<polyline points="433.8,325.3 433.8,328.2 512.8,328.2 512.8,325.3" fill="none" stroke="#111" stroke-width="1.2"/>
<text x="362.3" y="338.8" font-size="8.7" text-anchor="middle" font-weight="normal" fill="#1e1e1e"  stroke="#1e1e1e" stroke-width="0.1">Normal</text>
<text x="411" y="338.8" font-size="8.7" text-anchor="middle" font-weight="normal" fill="#1e1e1e"  stroke="#1e1e1e" stroke-width="0.1">Act</text>
<text x="473.3" y="338.8" font-size="8.7" text-anchor="middle" font-weight="normal" fill="#1e1e1e"  stroke="#1e1e1e" stroke-width="0.1">T-LGL</text>
<text x="411" y="352.2" font-size="8.7" text-anchor="middle" font-weight="normal" fill="#1e1e1e"  stroke="#1e1e1e" stroke-width="0.1">Normal</text>
<line x1="44.00" y1="22.70" x2="44.00" y2="142.45" stroke="#000" stroke-width="1.5"/>
<line x1="43.30" y1="141.75" x2="217.80" y2="141.75" stroke="#000" stroke-width="1.5"/>
<line x1="40.30" y1="141.75" x2="44.00" y2="141.75" stroke="#000" stroke-width="1.3"/>
<line x1="40.30" y1="118.70" x2="44.00" y2="118.70" stroke="#000" stroke-width="1.3"/>
<line x1="40.30" y1="95.65" x2="44.00" y2="95.65" stroke="#000" stroke-width="1.3"/>
<line x1="40.30" y1="72.60" x2="44.00" y2="72.60" stroke="#000" stroke-width="1.3"/>
<line x1="40.30" y1="49.55" x2="44.00" y2="49.55" stroke="#000" stroke-width="1.3"/>
<line x1="40.30" y1="26.50" x2="44.00" y2="26.50" stroke="#000" stroke-width="1.3"/>
<line x1="87.30" y1="141.75" x2="87.30" y2="144.75" stroke="#000" stroke-width="1.2"/>
<line x1="173.80" y1="141.75" x2="173.80" y2="144.75" stroke="#000" stroke-width="1.2"/>
<line x1="333.40" y1="22.70" x2="333.40" y2="142.45" stroke="#000" stroke-width="1.5"/>
<line x1="332.70" y1="141.75" x2="507.50" y2="141.75" stroke="#000" stroke-width="1.5"/>
<line x1="329.80" y1="141.75" x2="333.40" y2="141.75" stroke="#000" stroke-width="1.3"/>
<line x1="329.80" y1="118.70" x2="333.40" y2="118.70" stroke="#000" stroke-width="1.3"/>
<line x1="329.80" y1="95.65" x2="333.40" y2="95.65" stroke="#000" stroke-width="1.3"/>
<line x1="329.80" y1="72.60" x2="333.40" y2="72.60" stroke="#000" stroke-width="1.3"/>
<line x1="329.80" y1="49.55" x2="333.40" y2="49.55" stroke="#000" stroke-width="1.3"/>
<line x1="329.80" y1="26.50" x2="333.40" y2="26.50" stroke="#000" stroke-width="1.3"/>
<line x1="376.80" y1="141.75" x2="376.80" y2="144.75" stroke="#000" stroke-width="1.2"/>
<line x1="463.70" y1="141.75" x2="463.70" y2="144.75" stroke="#000" stroke-width="1.2"/>
<line x1="44.00" y1="196.20" x2="44.00" y2="297.10" stroke="#000" stroke-width="1.5"/>
<line x1="43.30" y1="296.40" x2="282.30" y2="296.40" stroke="#000" stroke-width="1.4"/>
<line x1="40.30" y1="296.60" x2="44.00" y2="296.60" stroke="#000" stroke-width="1.3"/>
<line x1="40.30" y1="272.30" x2="44.00" y2="272.30" stroke="#000" stroke-width="1.3"/>
<line x1="40.30" y1="248.00" x2="44.00" y2="248.00" stroke="#000" stroke-width="1.3"/>
<line x1="40.30" y1="223.70" x2="44.00" y2="223.70" stroke="#000" stroke-width="1.3"/>
<line x1="40.30" y1="199.40" x2="44.00" y2="199.40" stroke="#000" stroke-width="1.3"/>
<line x1="57.60" y1="296.40" x2="57.60" y2="299.60" stroke="#000" stroke-width="1.2"/>
<line x1="87.70" y1="296.40" x2="87.70" y2="299.60" stroke="#000" stroke-width="1.2"/>
<line x1="117.80" y1="296.40" x2="117.80" y2="299.60" stroke="#000" stroke-width="1.2"/>
<line x1="147.90" y1="296.40" x2="147.90" y2="299.60" stroke="#000" stroke-width="1.2"/>
<line x1="178.00" y1="296.40" x2="178.00" y2="299.60" stroke="#000" stroke-width="1.2"/>
<line x1="208.10" y1="296.40" x2="208.10" y2="299.60" stroke="#000" stroke-width="1.2"/>
<line x1="238.20" y1="296.40" x2="238.20" y2="299.60" stroke="#000" stroke-width="1.2"/>
<line x1="268.30" y1="296.40" x2="268.30" y2="299.60" stroke="#000" stroke-width="1.2"/>
<line x1="333.40" y1="193.20" x2="333.40" y2="297.05" stroke="#000" stroke-width="1.5"/>
<line x1="332.70" y1="296.35" x2="512.30" y2="296.35" stroke="#000" stroke-width="1.4"/>
<line x1="330.20" y1="296.40" x2="333.40" y2="296.40" stroke="#000" stroke-width="1.3"/>
<line x1="330.20" y1="271.30" x2="333.40" y2="271.30" stroke="#000" stroke-width="1.3"/>
<line x1="330.20" y1="246.20" x2="333.40" y2="246.20" stroke="#000" stroke-width="1.3"/>
<line x1="330.20" y1="221.10" x2="333.40" y2="221.10" stroke="#000" stroke-width="1.3"/>
<line x1="330.20" y1="196.00" x2="333.40" y2="196.00" stroke="#000" stroke-width="1.3"/>
<line x1="342.30" y1="296.35" x2="342.30" y2="299.35" stroke="#000" stroke-width="1.2"/>
<line x1="362.32" y1="296.35" x2="362.32" y2="299.35" stroke="#000" stroke-width="1.2"/>
<line x1="382.34" y1="296.35" x2="382.34" y2="299.35" stroke="#000" stroke-width="1.2"/>
<line x1="402.36" y1="296.35" x2="402.36" y2="299.35" stroke="#000" stroke-width="1.2"/>
<line x1="422.38" y1="296.35" x2="422.38" y2="299.35" stroke="#000" stroke-width="1.2"/>
<line x1="442.40" y1="296.35" x2="442.40" y2="299.35" stroke="#000" stroke-width="1.2"/>
<line x1="462.42" y1="296.35" x2="462.42" y2="299.35" stroke="#000" stroke-width="1.2"/>
<line x1="482.44" y1="296.35" x2="482.44" y2="299.35" stroke="#000" stroke-width="1.2"/>
<line x1="502.46" y1="296.35" x2="502.46" y2="299.35" stroke="#000" stroke-width="1.2"/>
<rect x="0" y="0" width="520" height="1" fill="#000"/>
<rect x="0" y="1" width="520" height="1" fill="#9a9a9a"/>
<rect x="0" y="0" width="1" height="362" fill="#000"/>
<rect x="1" y="1" width="1" height="360" fill="#bbb"/>
<rect x="519" y="0" width="1" height="362" fill="#000"/>
<rect x="518" y="1" width="1" height="360" fill="#777"/>
<rect x="0" y="361" width="520" height="1" fill="#000"/>
<rect x="1" y="360" width="518" height="1" fill="#666"/>
</svg>
</body></html>
